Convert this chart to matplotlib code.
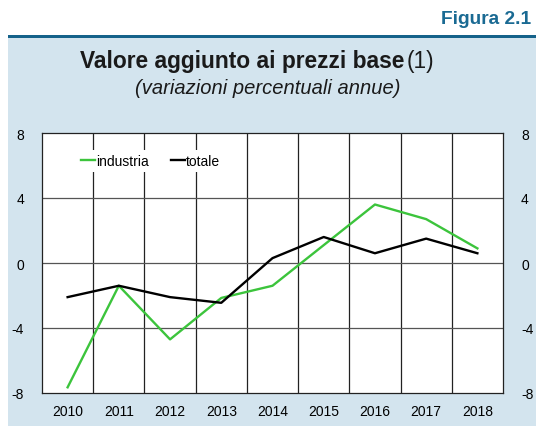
import numpy as np
import matplotlib.pyplot as plt
from matplotlib.patches import Rectangle

plt.rcParams['font.family'] = ['Liberation Sans', 'DejaVu Sans']
plt.rcParams['axes.unicode_minus'] = False

# Data
years = ['2010', '2011', '2012', '2013', '2014', '2015', '2016', '2017', '2018']
industria = [-7.65, -1.4, -4.7, -2.15, -1.4, 1.1, 3.6, 2.7, 0.9]
totale = [-2.1, -1.4, -2.1, -2.45, 0.3, 1.6, 0.6, 1.5, 0.6]
yticks = [-8, -4, 0, 4, 8]

W, H = 536, 427
fig = plt.figure(figsize=(W / 100, H / 100), dpi=100)

# light blue panel and dark header line
panel_col = '#d3e4ee'
fig.patches.append(Rectangle((8 / W, 0), 1 - 8 / W, (H - 38) / H, transform=fig.transFigure,
                             facecolor=panel_col, edgecolor='none', zorder=-10))
fig.patches.append(Rectangle((8 / W, (H - 39) / H), 1 - 8 / W, 3 / H, transform=fig.transFigure,
                             facecolor='#15628a', edgecolor='none', zorder=-9))

fig.text(531 / W, 1 - 20 / H, 'Figura 2.1', ha='right', va='center', fontsize=13.8,
         fontweight='bold', color='#1a6a93')
fig.text(404 / W, 1 - 62 / H, 'Valore aggiunto ai prezzi base', ha='right', va='center',
         fontsize=16.4, fontweight='bold', color='#1a1a1a')
fig.text(407 / W, 1 - 62 / H, '(1)', ha='left', va='center', fontsize=16.4, color='#1a1a1a')
fig.text(268 / W, 1 - 88 / H, '(variazioni percentuali annue)', ha='center', va='center',
         fontsize=14.5, style='italic', color='#1a1a1a')

ax = fig.add_axes([42 / W, (H - 394) / H, (503 - 42) / W, (394 - 134) / H])
ax.set_facecolor('white')
x = np.arange(len(years))

for b in np.arange(0.5, len(years) - 0.5, 1):
    ax.axvline(b, color='#222222', lw=0.9, zorder=1)
for v in [-4, 0, 4]:
    ax.axhline(v, color='#555555', lw=0.9, zorder=1)

ax.plot(x, industria, color='#3cc43c', lw=1.7, zorder=3, label='industria')
ax.plot(x, totale, color='black', lw=1.7, zorder=3, label='totale')

ax.set_xlim(-0.5, len(years) - 0.5)
ax.set_ylim(-8, 8)
ax.set_xticks(x)
ax.set_xticklabels(years)
ax.set_yticks(yticks)
ax.tick_params(length=0, labelsize=10, pad=8)
ax.tick_params(axis='y', pad=13)
for s in ax.spines.values():
    s.set_color('#222222')
    s.set_linewidth(0.9)

ax2 = ax.twinx()
ax2.set_ylim(-8, 8)
ax2.set_yticks(yticks)
ax2.tick_params(length=0, labelsize=10, pad=13)
for s in ax2.spines.values():
    s.set_visible(False)

leg = ax.legend(loc='center left', bbox_to_anchor=(0.06, 0.893), ncol=2, fontsize=10,
                handlelength=1.0, handletextpad=0.1, columnspacing=1.6,
                frameon=True, fancybox=False, borderpad=0.3)
leg.get_frame().set_facecolor('white')
leg.get_frame().set_edgecolor('none')
leg.get_frame().set_alpha(1)
leg.set_zorder(5)

fig.savefig('out.png', dpi=100)
